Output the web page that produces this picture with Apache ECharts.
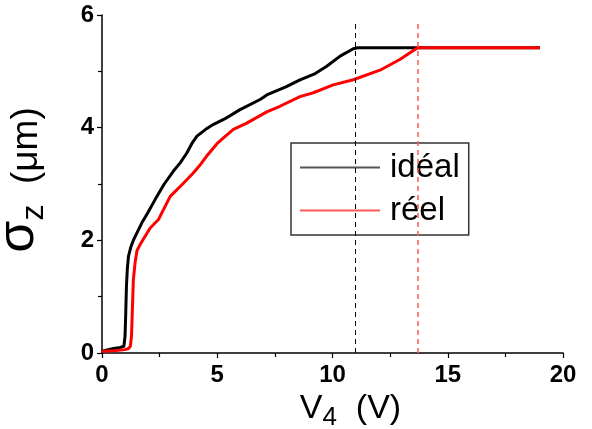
<!DOCTYPE html>
<html>
<head>
<meta charset="utf-8">
<script src="https://cdn.jsdelivr.net/npm/echarts@6/dist/echarts.min.js"></script>
<style>html,body{margin:0;padding:0;background:#fff}#c{width:592px;height:429px}</style>
</head>
<body>
<div id="c"></div>
<script>
var xTicks = [0, 5, 10, 15, 20];
var yTicks = [0, 2, 4, 6];
var seriesNames = ['idéal', 'réel'];
var idealX = [0, 0.5, 0.8, 0.95, 1.0, 1.03, 1.06, 1.1, 1.15, 1.25, 1.37, 1.5, 1.73, 2.0, 2.38, 2.7, 3.1, 3.4, 3.68, 3.9, 4.12, 4.5, 4.84, 5.3, 5.99, 6.86, 7.15, 8.0, 8.59, 9.2, 9.75, 10.33, 10.9, 11.1, 12, 13, 14, 15, 16, 17, 18, 19];
var idealY = [0.03, 0.08, 0.1, 0.12, 0.3, 0.7, 1.18, 1.5, 1.72, 1.88, 2.01, 2.12, 2.31, 2.5, 2.78, 3.0, 3.23, 3.38, 3.55, 3.72, 3.85, 3.97, 4.06, 4.15, 4.32, 4.5, 4.58, 4.73, 4.85, 4.95, 5.09, 5.27, 5.4, 5.42, 5.42, 5.42, 5.42, 5.42, 5.42, 5.42, 5.42, 5.42];
var reelX = [0, 0.5, 1.0, 1.15, 1.23, 1.28, 1.32, 1.36, 1.44, 1.52, 1.66, 2.09, 2.45, 2.96, 3.5, 3.97, 4.3, 4.55, 5.0, 5.27, 5.7, 6.28, 7.15, 7.72, 8.59, 9.17, 10.03, 10.9, 12.06, 12.92, 13.69, 14, 15, 16, 17, 18, 19];
var reelY = [0.03, 0.04, 0.06, 0.08, 0.12, 0.3, 0.8, 1.3, 1.62, 1.82, 1.93, 2.22, 2.37, 2.78, 3.0, 3.2, 3.36, 3.5, 3.72, 3.82, 3.97, 4.08, 4.28, 4.38, 4.55, 4.62, 4.76, 4.85, 5.02, 5.21, 5.42, 5.42, 5.42, 5.42, 5.42, 5.42, 5.42];
var idealLimit = 11.0;
var reelLimit = 13.7;
var limitTop = 5.88;

function pairs(xs, ys) { return xs.map(function (x, i) { return [x, ys[i]]; }); }

var FONT = 'Liberation Sans, Arial, sans-serif';
var chart = echarts.init(document.getElementById('c'));
chart.setOption({
  animation: false,
  backgroundColor: '#fff',
  grid: { left: 102, right: 29, top: 15, bottom: 76, containLabel: false, outerBoundsMode: 'none' },
  xAxis: {
    type: 'value', min: xTicks[0], max: xTicks[xTicks.length - 1], interval: 5,
    axisLine: { lineStyle: { color: '#000', width: 1.5 } },
    axisTick: { inside: false, length: 5, lineStyle: { color: '#000', width: 1.2 } },
    minorTick: { show: true, splitNumber: 2, length: 4, lineStyle: { color: '#000', width: 1.2 } },
    splitLine: { show: false },
    axisLabel: { fontSize: 24, fontWeight: 'bold', color: '#000', fontFamily: FONT, margin: 10 },
    name: '{m|V}{s|4}{m|  (V)}',
    nameLocation: 'middle', nameGap: 30,
    nameTextStyle: {
      fontFamily: FONT, color: '#000', padding: [0, 0, 0, 36],
      rich: {
        m: { fontSize: 34, fontFamily: FONT, color: '#000', verticalAlign: 'bottom', padding: [0, 0, 5, 0] },
        s: { fontSize: 26, fontFamily: FONT, color: '#000', verticalAlign: 'bottom' }
      }
    }
  },
  yAxis: {
    type: 'value', min: yTicks[0], max: yTicks[yTicks.length - 1], interval: 2,
    axisLine: { lineStyle: { color: '#000', width: 1.5 } },
    axisTick: { inside: false, length: 5, lineStyle: { color: '#000', width: 1.2 } },
    minorTick: { show: true, splitNumber: 2, length: 4, lineStyle: { color: '#000', width: 1.2 } },
    splitLine: { show: false },
    axisLabel: { fontSize: 24, fontWeight: 'bold', color: '#000', fontFamily: FONT, margin: 8 },
    name: '{s|σ}{z|z}{u|  (μm)}',
    nameLocation: 'middle', nameGap: 52,
    nameTextStyle: {
      fontFamily: FONT, color: '#000', padding: [0, 0, 0, 8],
      rich: {
        s: { fontSize: 52, fontFamily: FONT, color: '#000', verticalAlign: 'bottom', padding: [0, 0, 5, 0] },
        z: { fontSize: 32, fontFamily: FONT, color: '#000', verticalAlign: 'bottom' },
        u: { fontSize: 37, fontFamily: FONT, color: '#000', verticalAlign: 'bottom', padding: [0, 0, 5, 0] }
      }
    }
  },
  legend: {
    orient: 'vertical', left: 291, top: 143,
    padding: [8, 9, 8, 9], itemGap: 10, itemWidth: 80, itemHeight: 2,
    borderColor: '#333', borderWidth: 1.5, backgroundColor: '#fff',
    textStyle: { fontSize: 33, fontFamily: FONT, color: '#000', padding: [0, 0, 0, 5] },
    data: [
      { name: seriesNames[0], icon: 'rect', itemStyle: { color: '#555' } },
      { name: seriesNames[1], icon: 'rect', itemStyle: { color: '#ff5a5a' } }
    ]
  },
  series: [
    {
      name: seriesNames[0], type: 'line', data: pairs(idealX, idealY),
      showSymbol: false, symbol: 'none', smooth: false,
      lineStyle: { color: '#000', width: 3 }, itemStyle: { color: '#000' },
      markLine: {
        silent: true, symbol: 'none', label: { show: false },
        lineStyle: { color: '#000', width: 1, type: [5, 4] },
        data: [[{ coord: [idealLimit, 0] }, { coord: [idealLimit, limitTop] }]]
      }
    },
    {
      name: seriesNames[1], type: 'line', data: pairs(reelX, reelY),
      showSymbol: false, symbol: 'none', smooth: false,
      lineStyle: { color: '#ff0000', width: 3 }, itemStyle: { color: '#ff0000' },
      markLine: {
        silent: true, symbol: 'none', label: { show: false },
        lineStyle: { color: '#ff5a5a', width: 1.5, type: [5, 4] },
        data: [[{ coord: [reelLimit, 0] }, { coord: [reelLimit, limitTop] }]]
      }
    }
  ]
});
</script>
</body>
</html>
